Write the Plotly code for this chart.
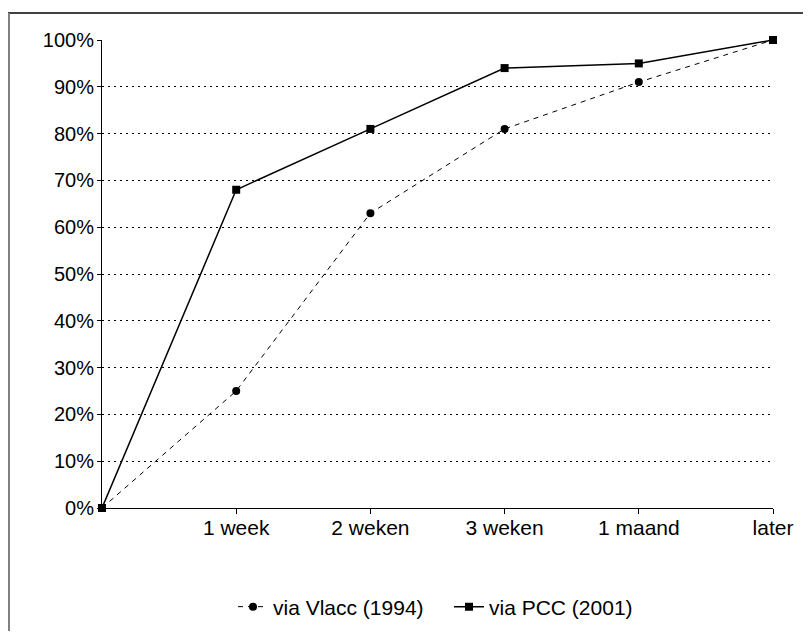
import plotly.graph_objects as go

categories = ["", "1 week", "2 weken", "3 weken", "1 maand", "later"]
vlacc_1994 = [0, 25, 63, 81, 91, 100]
pcc_2001 = [0, 68, 81, 94, 95, 100]
y_ticks = [0, 10, 20, 30, 40, 50, 60, 70, 80, 90, 100]
y_tick_labels = [f"{v}%" for v in y_ticks]

xpos = list(range(len(categories)))

OFF = 8  # page body margin
W, H = 795, 623
L, R, T, B = 102 - OFF, 773 - OFF, 40 - OFF, 508 - OFF
PW, PH = R - L, B - T


def px(xf):
    return (xf - L) / PW


def py(yf):
    return (B - yf) / PH


FONT = "Liberation Sans, Arial, sans-serif"

fig = go.Figure()
fig.add_trace(go.Scatter(
    x=xpos, y=vlacc_1994, name="via Vlacc (1994)", mode="lines+markers",
    line=dict(color="black", width=1, dash="5px,5px"),
    marker=dict(symbol="circle", size=8, color="black"),
    cliponaxis=False, legend="legend",
))
fig.add_trace(go.Scatter(
    x=xpos, y=pcc_2001, name="via PCC (2001)", mode="lines+markers",
    line=dict(color="black", width=1.5),
    marker=dict(symbol="square", size=8, color="black"),
    cliponaxis=False, legend="legend2",
))

leg_common = dict(orientation="h", yanchor="middle", y=py(607 - OFF),
                  font=dict(size=21, family=FONT, color="black"),
                  itemwidth=30, bgcolor="rgba(0,0,0,0)", borderwidth=0)

fig.update_layout(
    width=W, height=H,
    margin=dict(l=L, r=W - R, t=T, b=H - B, pad=0, autoexpand=False),
    paper_bgcolor="white", plot_bgcolor="white",
    font=dict(family=FONT, size=20, color="black"),
    showlegend=True,
    legend=dict(x=px(233 - OFF), xanchor="left", **leg_common),
    legend2=dict(x=px(449 - OFF), xanchor="left", **leg_common),
    xaxis=dict(range=[0, len(categories) - 1], tickvals=xpos[1:], ticktext=categories[1:],
               showgrid=False, zeroline=False, showline=True, linecolor="black", linewidth=1,
               ticks="outside", ticklen=5, tickcolor="black", tickwidth=1,
               ticklabelstandoff=-4, tickfont=dict(size=21)),
    yaxis=dict(range=[0, 100], tickvals=y_ticks, ticktext=y_tick_labels,
               showgrid=True, gridcolor="black", gridwidth=1, griddash="2px,4px",
               zeroline=False, showline=True, linecolor="black", linewidth=1,
               ticks="outside", ticklen=4, tickcolor="black", tickwidth=1,
               ticklabelstandoff=-1, tickfont=dict(size=20)),
    shapes=[
        dict(type="line", xref="paper", yref="paper",
             x0=px(0), x1=px(W),
             y0=py(13 - OFF), y1=py(13 - OFF),
             line=dict(color="black", width=1.5)),
        dict(type="line", xref="paper", yref="paper",
             x0=px(1), x1=px(1),
             y0=py(13 - OFF), y1=py(H),
             line=dict(color="#808080", width=2)),
    ],
)

fig.write_html("out.html")
